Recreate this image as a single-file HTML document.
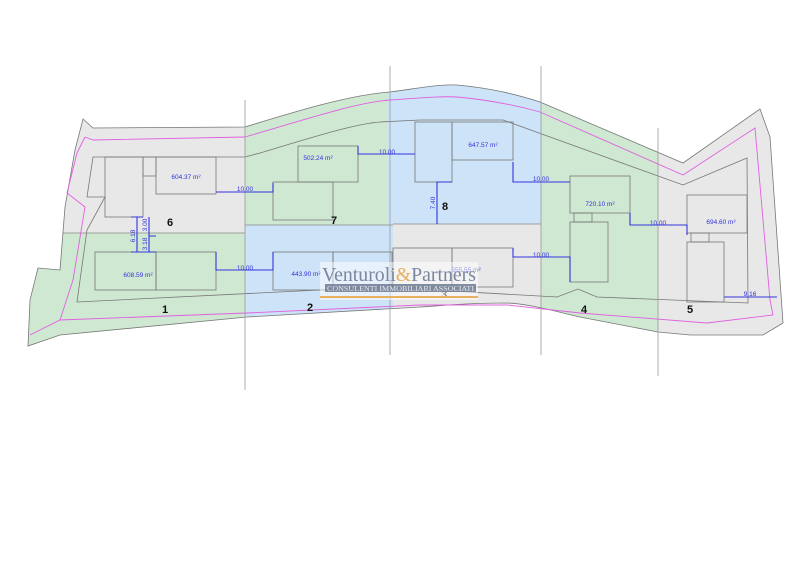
<!DOCTYPE html>
<html><head><meta charset="utf-8"><style>
html,body{margin:0;padding:0;background:#fff;}
svg{display:block;font-family:"Liberation Sans",sans-serif;}
</style></head><body>
<svg width="800" height="565" viewBox="0 0 800 565" xmlns="http://www.w3.org/2000/svg">
<defs>
<clipPath id="site"><path d="M83,119 L93,128 L245,127 C300,110 350,95 390,92 C420,88 440,84 457,85 C490,88 515,94 540,102 L683,163 L760,109 L770,137 L783,323 L763,335 L690,335 L658,332 L580,317 C550,310 530,304 507,303 C470,303 450,305 420,307 L247,317 L60,335 L28,346 L30,300 L38,268 L60,270 L65,207 L75,150 Z"/></clipPath>
</defs>
<g clip-path="url(#site)">
<rect x="0" y="0" width="800" height="565" fill="#e8e8e8"/>
<rect x="0" y="233" width="245" height="200" fill="#cfe8d2"/>
<rect x="245" y="0" width="145" height="225" fill="#cfe8d2"/>
<rect x="245" y="225" width="148" height="200" fill="#cde3f7"/>
<rect x="388" y="0" width="153" height="224" fill="#cde3f7"/>
<rect x="393" y="224" width="148" height="200" fill="#e8e8e8"/>
<rect x="541" y="0" width="117" height="400" fill="#cfe8d2"/>
<rect x="658" y="0" width="150" height="400" fill="#e8e8e8"/>
<rect x="0" y="0" width="245" height="128" fill="#e8e8e8"/>
<line x1="0" y1="233" x2="245" y2="233" stroke="#888" stroke-width="0.7"/>
<line x1="245" y1="225" x2="393" y2="225" stroke="#888" stroke-width="0.7"/>
<line x1="393" y1="224" x2="541" y2="224" stroke="#888" stroke-width="0.7"/>
</g>
<path d="M83,119 L93,128 L245,127 C300,110 350,95 390,92 C420,88 440,84 457,85 C490,88 515,94 540,102 L683,163 L760,109 L770,137 L783,323 L763,335 L690,335 L658,332 L580,317 C550,310 530,304 507,303 C470,303 450,305 420,307 L247,317 L60,335 L28,346 L30,300 L38,268 L60,270 L65,207 L75,150 Z" fill="none" stroke="#777" stroke-width="0.8"/>
<path d="M93,157 L245,157 L260,153 C320,135 355,124 380,122 L420,120 L503,120 L683,185 L747,158 L748,303 L597,297 L578,289 L557,297 L380,287 L77,302 L87,230 L105,197 L87,197 Z" fill="none" stroke="#777" stroke-width="0.8"/>
<path d="M85,137 L93,140 L245,137 C320,115 360,102 390,100 C420,98 440,96 457,97 C490,100 515,105 540,112 L683,175 L755,128 L770,300 L773,315 L707,323 L580,313 L507,305 L420,305 L247,313 L60,320 L30,335 M60,320 L73,280 L85,207 L67,193 L77,153 L85,137" fill="none" stroke="#e060e0" stroke-width="0.9"/>
<g stroke="#999" stroke-width="0.8">
<line x1="245" y1="100" x2="245" y2="390"/>
<line x1="390" y1="66" x2="390" y2="355"/>
<line x1="541" y1="66" x2="541" y2="355"/>
<line x1="658" y1="128" x2="658" y2="376"/>
</g>
<g fill="none" stroke="#777" stroke-width="0.8">
<rect x="105" y="157" width="38" height="60"/><rect x="143" y="157" width="13" height="19"/><rect x="156" y="157" width="60" height="37"/>
<rect x="95" y="252" width="61" height="38"/><rect x="156" y="252" width="60" height="38"/>
<rect x="298" y="146" width="60" height="36"/><rect x="273" y="182" width="60" height="38"/>
<rect x="273" y="252" width="60" height="38"/><rect x="333" y="252" width="59" height="38"/>
<rect x="415" y="122" width="37" height="60"/><rect x="452" y="122" width="61" height="38"/>
<rect x="393" y="248" width="59" height="39"/><rect x="452" y="248" width="61" height="39"/>
<rect x="570" y="176" width="60" height="37"/><rect x="574" y="213" width="18" height="9"/><rect x="570" y="222" width="38" height="60"/>
<rect x="687" y="195" width="60" height="38"/><rect x="691" y="233" width="18" height="9"/><rect x="687" y="242" width="37" height="60"/>
</g>
<g fill="none" stroke="#3333dd" stroke-width="1.1">
<path d="M216,192 H273 V183"/>
<path d="M358,146 V154 H415"/>
<path d="M216,252 V270 H273 V252"/>
<path d="M137,217 V252 M131,217 H143 M131,252 H156 M149,217 V252 M149,236 H156"/>
<path d="M437,224 V182 H452"/>
<path d="M513,162 V182 H570"/>
<path d="M513,248 V257 H570 V282"/>
<path d="M630,213 V225 H687 V235"/>
<path d="M724,297 H777"/>
</g>
<g fill="#3333dd" font-size="6.5" text-anchor="middle">
<text x="245" y="191">10.00</text><text x="387" y="154">10.00</text><text x="245" y="270">10.00</text>
<text x="541" y="181">10.00</text><text x="541" y="257">10.00</text><text x="658" y="225">10.00</text><text x="750" y="296">9.16</text>
<text transform="translate(135,236) rotate(-90)">6.18</text>
<text transform="translate(147,225) rotate(-90)">3.00</text>
<text transform="translate(147,244) rotate(-90)">3.18</text>
<text transform="translate(435,203) rotate(-90)">7.40</text>
<text x="186" y="179">604.37 m²</text><text x="138" y="277">608.59 m²</text>
<text x="318" y="160">502.24 m²</text><text x="306" y="276">443.90 m²</text>
<text x="483" y="147">647.57 m²</text><text x="600" y="206">720.10 m²</text><text x="721" y="224">694.60 m²</text>
<text x="466" y="272">555.55 m²</text>
</g>
<g font-size="11" font-weight="bold" fill="#111" text-anchor="middle">
<text x="170" y="226">6</text><text x="334" y="224">7</text><text x="445" y="210">8</text>
<text x="165" y="313">1</text><text x="310" y="311">2</text><text x="444" y="298">3</text>
<text x="584" y="313">4</text><text x="690" y="313">5</text>
</g>
<rect x="320" y="262" width="158" height="38" fill="#fff" opacity="0.5"/>
<text x="322" y="281" font-family="'Liberation Serif',serif" font-size="20" fill="#7a86a0" textLength="154" lengthAdjust="spacingAndGlyphs">Venturoli<tspan fill="#e8b060">&amp;</tspan>Partners</text>
<rect x="325" y="284" width="151" height="8" fill="#6c7a90" opacity="0.85"/>
<text x="327" y="291" font-family="'Liberation Serif',serif" font-size="7" fill="#e8e8f0" textLength="147" lengthAdjust="spacingAndGlyphs">CONSULENTI IMMOBILIARI ASSOCIATI</text>
<rect x="320" y="296" width="158" height="2" fill="#e8b060"/>
</svg>
</body></html>
